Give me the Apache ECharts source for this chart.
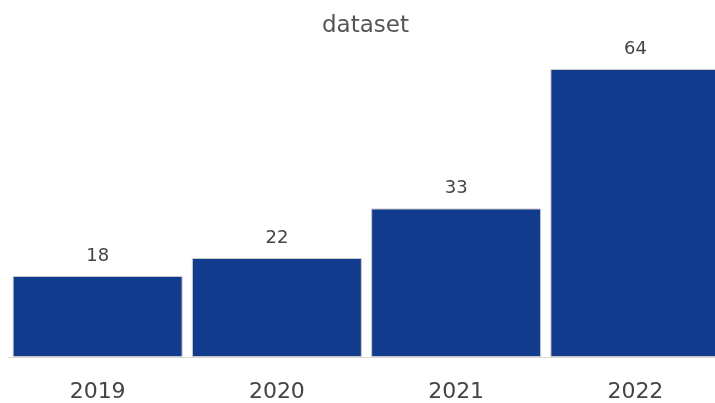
<!DOCTYPE html>
<html><head><meta charset="utf-8">
<script src="https://cdn.jsdelivr.net/npm/echarts@6/dist/echarts.min.js"></script>
<style>html,body{margin:0;padding:0;background:#fff;overflow:hidden;width:715px;height:403px}#c{width:725px;height:403px}</style>
</head><body><div id="c"></div>
<script>
const categories = ['2019', '2020', '2021', '2022'];
const values = [18, 22, 33, 64];
const chart = echarts.init(document.getElementById('c'));
chart.setOption({
  animation: false,
  title: { text: 'dataset', left: 317, top: 10, textStyle: { fontFamily: 'DejaVu Sans', fontWeight: 'normal', fontSize: 23, color: '#555' } },
  grid: { left: 8, top: 69, right: 0, bottom: 45 },
  xAxis: { type: 'category', data: categories,
    axisLine: { lineStyle: { color: '#d9d9d9', width: 1 } }, axisTick: { show: false },
    axisLabel: { fontFamily: 'DejaVu Sans', fontSize: 22, color: '#444', margin: 24 } },
  yAxis: { type: 'value', min: 0, max: 64, show: false, splitLine: { show: false } },
  series: [{ type: 'bar', data: values, barCategoryGap: '5.2%',
    itemStyle: { color: '#113c8e', borderColor: '#c8c8c8', borderWidth: 1 },
    label: { show: true, position: 'top', distance: 11, fontFamily: 'DejaVu Sans', fontSize: 18, color: '#444' } }]
});
</script></body></html>
